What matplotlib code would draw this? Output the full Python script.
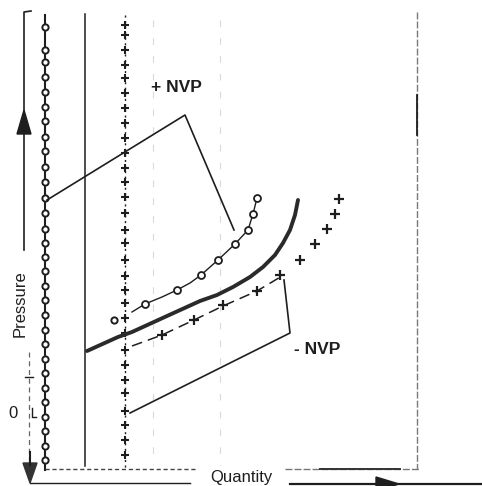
import matplotlib
matplotlib.use("Agg")
import matplotlib.pyplot as plt
from matplotlib.patches import Polygon

# ---- data (pixel-like units: x = quantity, y = pressure, y grows downward) ----
circ_col_x = 45
circ_col_y = [27, 50, 62, 77, 92, 107, 121, 137, 151, 167, 182, 198, 213, 229, 243,
              257, 271, 286, 300, 315, 330, 344, 359, 373, 388, 402, 417, 431, 446, 460]
plus_col_x = 125
plus_col_y = [25, 35, 50, 65, 78, 93, 108, 123, 138, 153, 168, 182, 197, 213, 230,
              243, 260, 276, 290, 303, 318, 333, 350, 365, 380, 393, 411, 425, 440, 455]
thin_col_x = 85

# + NVP curve (open circles)
pos_x = [132, 145, 162, 177, 190, 201, 218, 235, 248, 253, 257]
pos_y = [312, 304, 297, 290, 283, 275, 260, 244, 230, 214, 198]
pos_marker_x = [145, 177, 201, 218, 235, 248, 253, 257]
pos_marker_y = [304, 290, 275, 260, 244, 230, 214, 198]
lone_circle = (114, 320)

# reference curve (thick)
ref_x = [87, 118, 132, 167, 200, 217, 233, 250, 263, 275, 283, 290, 295, 298]
ref_y = [351, 337, 332, 316, 301, 295, 287, 277, 267, 255, 243, 230, 215, 200]

# - NVP curve (plus markers)
neg_line_x = [132, 162, 194, 223, 257, 282]
neg_line_y = [346, 335, 320, 306, 291, 276]
neg_mark_x = [162, 194, 223, 257, 280, 300, 315, 327, 335, 339]
neg_mark_y = [335, 320, 305, 291, 275, 260, 244, 229, 214, 199]

# leader lines
lead_pos_x = [47, 185, 234]
lead_pos_y = [200, 115, 230]
lead_neg_x = [284, 290, 130]
lead_neg_y = [280, 333, 413]

labels = {"pos": "+ NVP", "neg": "- NVP", "x": "Quantity", "y": "Pressure", "zero": "0"}

# ---- figure ----
fig = plt.figure(figsize=(4.82, 4.86), dpi=100)
ax = fig.add_axes([0, 0, 1, 1])
ax.set_xlim(0, 482)
ax.set_ylim(486, 0)
ax.axis("off")
ink = "#1e1e1e"

# faint guide lines
for gx in (153, 220):
    ax.plot([gx, gx], [20, 465], color="#dadada", lw=0.8, ls=(0, (6, 10)))

# y axis
ax.plot([24, 24, 31], [250, 12, 11], color=ink, lw=1.2)
ax.add_patch(Polygon([[24, 110], [17, 134], [31, 134]], closed=True, color=ink))
ax.plot([29, 29], [352, 462], color="#666666", lw=0.9, ls=(0, (4, 3)))
ax.plot([25, 33], [377, 377], color=ink, lw=1.0)
ax.plot([32, 32, 36], [408, 417, 417], color=ink, lw=1.0)
ax.add_patch(Polygon([[30, 483], [23, 463], [37, 463]], closed=True, color="#333333"))
ax.plot([30, 30], [452, 465], color=ink, lw=1.5)

# vertical columns
ax.plot([circ_col_x] * 2, [15, 470], color=ink, lw=1.5)
ax.plot([circ_col_x] * len(circ_col_y), circ_col_y, ls="none", marker="o", ms=4.5,
        mfc="white", mec=ink, mew=1.4)
ax.plot([thin_col_x] * 2, [14, 466], color=ink, lw=1.1)
ax.plot([plus_col_x] * 2, [15, 470], color=ink, lw=1.0, ls=(0, (1.5, 2.5)))
ax.plot([plus_col_x] * len(plus_col_y), plus_col_y, ls="none", marker="+", ms=6,
        color=ink, mew=1.5)

# right frame and bottom lines
ax.plot([417, 417], [12, 469], color="#7a7a7a", lw=1.0, ls=(0, (5, 1.5)))
ax.plot([417, 417], [95, 135], color=ink, lw=1.3)
ax.plot([45, 195], [469, 469], color="#444444", lw=1.0, ls=(0, (3, 2)))
ax.plot([285, 420], [469, 469], color="#777777", lw=1.0, ls=(0, (5, 1.5)))
ax.plot([320, 400], [469, 469], color="#333333", lw=1.4)
ax.plot([30, 190], [483, 483], color=ink, lw=1.0)
ax.plot([290, 482], [484, 484], color=ink, lw=1.6)
ax.add_patch(Polygon([[399, 484], [376, 477], [376, 491]], closed=True, color=ink))

# curves
ax.plot(ref_x, ref_y, color="#2a2a2a", lw=2.8, solid_capstyle="round",
        solid_joinstyle="round")
ax.plot(pos_x, pos_y, color=ink, lw=1.0)
ax.plot(pos_marker_x, pos_marker_y, ls="none", marker="o", ms=5, mfc="white", mec=ink, mew=1.3)
ax.plot([lone_circle[0]], [lone_circle[1]], ls="none", marker="o", ms=4.5, mfc="white",
        mec=ink, mew=1.4)
ax.plot(neg_line_x, neg_line_y, color=ink, lw=1.1, ls=(0, (7, 4)))
ax.plot(neg_mark_x, neg_mark_y, ls="none", marker="+", ms=7, color=ink, mew=1.6)

# leaders
ax.plot(lead_pos_x, lead_pos_y, color=ink, lw=1.2)
ax.plot(lead_neg_x, lead_neg_y, color=ink, lw=1.2)

# text
font = "Liberation Sans"
ax.text(151, 87, labels["pos"], fontsize=12.5, fontweight="bold", family=font,
        color=ink, ha="left", va="center")
ax.text(294, 349, labels["neg"], fontsize=12.5, fontweight="bold", family=font,
        color=ink, ha="left", va="center")
ax.text(241, 477, labels["x"], fontsize=12, family=font, color=ink,
        ha="center", va="center")
ax.text(20, 304, labels["y"], fontsize=12, family=font, color=ink,
        ha="center", va="center", rotation=90)
ax.text(13, 413, labels["zero"], fontsize=12, family=font, color=ink,
        ha="center", va="center")

fig.savefig("out.png", dpi=100, facecolor="white")
